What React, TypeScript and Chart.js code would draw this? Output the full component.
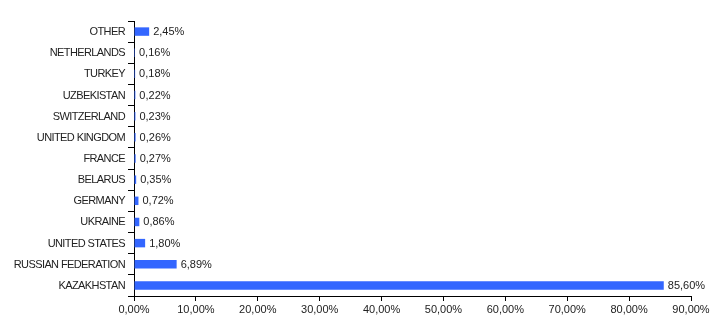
import React, { useEffect, useRef } from "react";
import { Chart, registerables } from "chart.js";

Chart.register(...registerables);

const categories = [
  "OTHER",
  "NETHERLANDS",
  "TURKEY",
  "UZBEKISTAN",
  "SWITZERLAND",
  "UNITED KINGDOM",
  "FRANCE",
  "BELARUS",
  "GERMANY",
  "UKRAINE",
  "UNITED STATES",
  "RUSSIAN FEDERATION",
  "KAZAKHSTAN",
];
const values = [2.45, 0.16, 0.18, 0.22, 0.23, 0.26, 0.27, 0.35, 0.72, 0.86, 1.8, 6.89, 85.6];
const axisMax = 90;
const axisStep = 10;

const fmt = (v: number) => v.toFixed(2).replace(".", ",") + "%";
const FONT = "'Liberation Sans', Arial, sans-serif";
const TEXT = "#222";

const customLabels = {
  id: "customLabels",
  afterDatasetsDraw(chart: any) {
    const ctx = chart.ctx;
    const meta = chart.getDatasetMeta(0);
    const yScale = chart.scales.y;
    ctx.save();
    ctx.font = `11px ${FONT}`;
    ctx.fillStyle = TEXT;
    ctx.textBaseline = "middle";
    ctx.textAlign = "left";
    meta.data.forEach((el: any, i: number) => {
      ctx.fillText(fmt(values[i]), el.x + 4, el.y + 0.5);
    });
    (ctx as any).letterSpacing = "-0.6px";
    ctx.textAlign = "right";
    categories.forEach((c, i) => {
      const y = yScale.getPixelForValue(i);
      ctx.fillText(c, yScale.right - 9, y + 0.5);
    });
    ctx.restore();
  },
};

export default function App() {
  const ref = useRef<HTMLCanvasElement>(null);
  useEffect(() => {
    document.body.style.margin = "0";
    const chart = new Chart(ref.current!, {
      type: "bar",
      data: {
        labels: categories,
        datasets: [
          {
            data: values,
            backgroundColor: "#3366ff",
            borderWidth: 0,
            barPercentage: 0.8,
            categoryPercentage: 0.5,
          },
        ],
      },
      options: {
        indexAxis: "y",
        animation: false,
        responsive: false,
        maintainAspectRatio: false,
        layout: { padding: { top: 21, right: 27, bottom: 0, left: 0 } },
        plugins: { legend: { display: false }, tooltip: { enabled: false } },
        scales: {
          x: {
            min: 0,
            max: axisMax,
            afterFit: (s: any) => {
              s.height = 29;
            },
            ticks: {
              stepSize: axisStep,
              color: TEXT,
              font: { family: FONT, size: 11 },
              padding: 2,
              maxRotation: 0,
              callback: (v: any) => fmt(Number(v)),
            },
            grid: {
              display: true,
              drawOnChartArea: false,
              drawTicks: true,
              tickLength: 5,
              color: "#000",
            },
            border: { display: true, color: "#000", width: 1 },
          },
          y: {
            afterFit: (s: any) => {
              s.width = 134;
            },
            ticks: {
              color: "rgba(0,0,0,0)",
              font: { family: FONT, size: 11 },
              padding: 3,
              autoSkip: false,
            },
            grid: {
              display: true,
              offset: true,
              drawOnChartArea: false,
              drawTicks: true,
              tickLength: 6,
              color: "#000",
            },
            border: { display: true, color: "#000", width: 1 },
          },
        },
      },
      plugins: [customLabels],
    });
    return () => chart.destroy();
  }, []);
  return (
    <div style={{ width: 718, height: 325 }}>
      <canvas ref={ref} width={718} height={325} style={{ display: "block" }} />
    </div>
  );
}
